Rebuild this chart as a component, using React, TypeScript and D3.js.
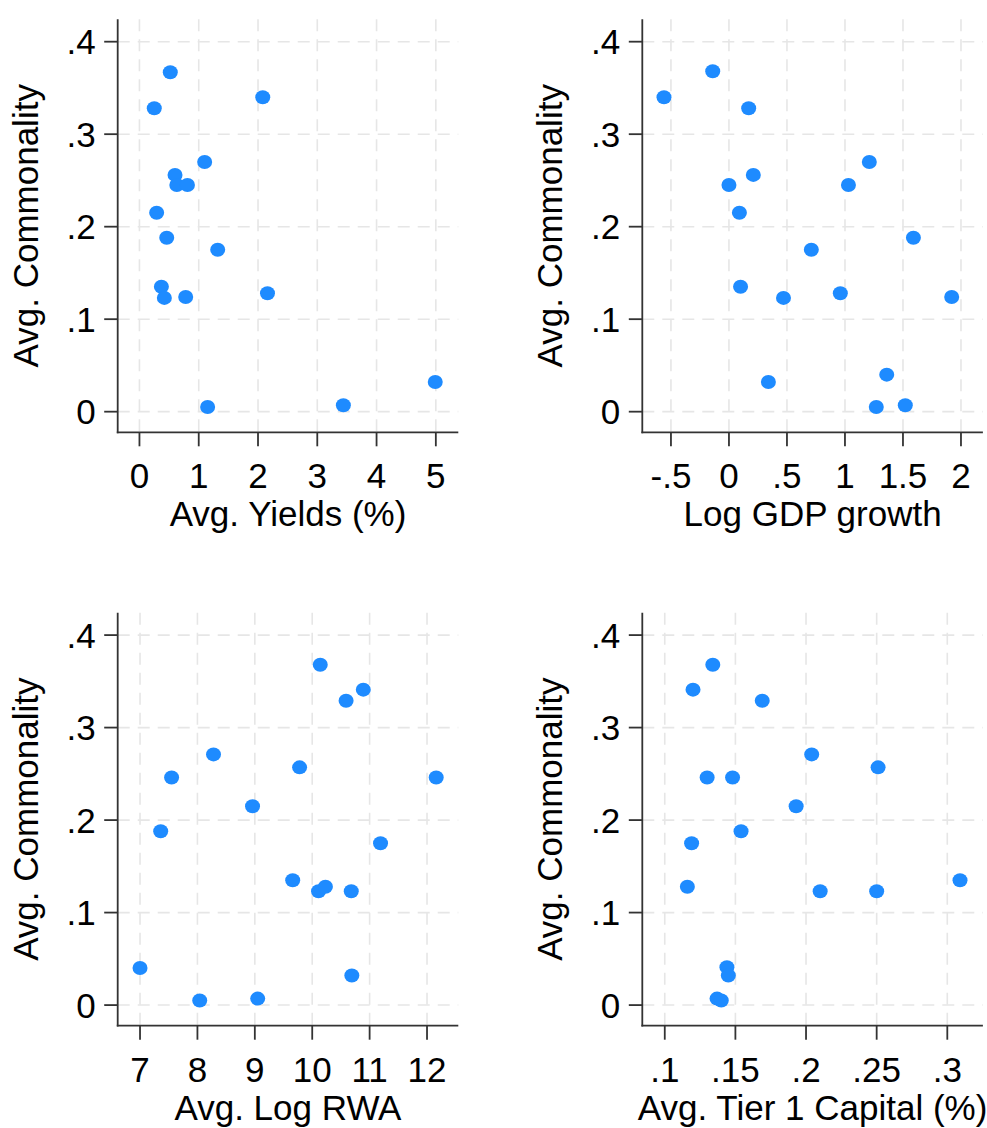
import React from 'react';
import * as d3 from 'd3';

// shared y axis (Avg. Commonality)
const yTicks = [0, 0.1, 0.2, 0.3, 0.4];
const yTickLabels = ['0', '.1', '.2', '.3', '.4'];

// panel 1: Avg. Yields (%)
const yieldsX = [0.52, 0.25, 2.08, 1.1, 0.6, 0.63, 0.81, 0.29, 0.46, 1.32, 0.37, 0.42, 0.78, 2.16, 4.99, 1.15, 3.44];
const yieldsY = [0.367, 0.328, 0.34, 0.27, 0.256, 0.245, 0.245, 0.215, 0.188, 0.175, 0.135, 0.123, 0.124, 0.128, 0.032, 0.005, 0.007];
const yieldsTicks = [0, 1, 2, 3, 4, 5];
const yieldsTickLabels = ['0', '1', '2', '3', '4', '5'];

// panel 2: Log GDP growth
const gdpX = [-0.56, -0.14, 0.17, 0.0, 0.21, 1.21, 1.03, 0.09, 1.59, 0.71, 0.1, 0.47, 0.96, 1.92, 0.34, 1.36, 1.27, 1.52];
const gdpY = [0.34, 0.368, 0.328, 0.245, 0.256, 0.27, 0.245, 0.215, 0.188, 0.175, 0.135, 0.123, 0.128, 0.124, 0.032, 0.04, 0.005, 0.007];
const gdpTicks = [-0.5, 0, 0.5, 1, 1.5, 2];
const gdpTickLabels = ['-.5', '0', '.5', '1', '1.5', '2'];

// panel 3: Avg. Log RWA
const rwaX = [10.14, 10.59, 10.89, 8.28, 9.78, 7.55, 12.16, 8.96, 7.36, 11.19, 9.66, 10.11, 10.23, 10.68, 7.0, 10.69, 8.04, 9.05];
const rwaY = [0.368, 0.329, 0.341, 0.271, 0.257, 0.246, 0.246, 0.215, 0.188, 0.175, 0.135, 0.123, 0.128, 0.123, 0.04, 0.032, 0.005, 0.007];
const rwaTicks = [7, 8, 9, 10, 11, 12];
const rwaTickLabels = ['7', '8', '9', '10', '11', '12'];

// panel 4: Avg. Tier 1 Capital (%)
const tierX = [0.134, 0.12, 0.169, 0.204, 0.251, 0.13, 0.148, 0.193, 0.154, 0.119, 0.309, 0.116, 0.21, 0.25, 0.144, 0.145, 0.137, 0.14];
const tierY = [0.368, 0.341, 0.329, 0.271, 0.257, 0.246, 0.246, 0.215, 0.188, 0.175, 0.135, 0.128, 0.123, 0.123, 0.041, 0.032, 0.007, 0.005];
const tierTicks = [0.1, 0.15, 0.2, 0.25, 0.3];
const tierTickLabels = ['.1', '.15', '.2', '.25', '.3'];

const FONT = "'Liberation Sans', Arial, Helvetica, sans-serif";
const FS = 35;
const PLOT_W = 340.6;
const PLOT_H = 413;
const DOT = '#1e8bff';
const AXIS = '#333';
const GRID = '#e6e6e6';

interface PanelProps {
  left: number;
  top: number;
  xDomain: [number, number];
  xTicks: number[];
  xTickLabels: string[];
  xs: number[];
  ys: number[];
  xTitle: string;
}

const Panel: React.FC<PanelProps> = ({ left, top, xDomain, xTicks, xTickLabels, xs, ys, xTitle }) => {
  const x = d3.scaleLinear().domain(xDomain).range([0, PLOT_W]);
  const y = d3.scaleLinear().domain([-0.0223, 0.4242]).range([PLOT_H, 0]);

  return (
    <g transform={`translate(${left},${top})`} fontFamily={FONT}>
      {/* grid */}
      <g stroke={GRID} strokeWidth={1.6} strokeDasharray="12 8">
        {xTicks.map((t, i) => (
          <line key={'gx' + i} x1={x(t)} x2={x(t)} y1={0} y2={PLOT_H} />
        ))}
        {yTicks.map((t, i) => (
          <line key={'gy' + i} x1={0} x2={PLOT_W} y1={y(t)} y2={y(t)} />
        ))}
      </g>

      {/* points */}
      {xs.map((v, i) => (
        <ellipse key={'p' + i} cx={x(v)} cy={y(ys[i])} rx={7.5} ry={7} fill={DOT} />
      ))}

      {/* axes */}
      <g stroke={AXIS} strokeWidth={1.8}>
        <line x1={0} x2={0} y1={0} y2={PLOT_H + 0.9} />
        <line x1={-0.9} x2={PLOT_W} y1={PLOT_H} y2={PLOT_H} />
        {yTicks.map((t, i) => (
          <line key={'ty' + i} x1={-13.5} x2={0} y1={y(t)} y2={y(t)} />
        ))}
        {xTicks.map((t, i) => (
          <line key={'tx' + i} x1={x(t)} x2={x(t)} y1={PLOT_H} y2={PLOT_H + 14} />
        ))}
      </g>

      {/* tick labels */}
      {yTicks.map((t, i) => (
        <text key={'ly' + i} x={-22} y={y(t)} dy="0.36em" textAnchor="end" fontSize={FS} fill="#000">
          {yTickLabels[i]}
        </text>
      ))}
      {xTicks.map((t, i) => (
        <text key={'lx' + i} x={x(t)} y={PLOT_H + 56} textAnchor="middle" fontSize={FS} fill="#000">
          {xTickLabels[i]}
        </text>
      ))}

      {/* titles */}
      <text x={PLOT_W / 2} y={PLOT_H + 94} textAnchor="middle" fontSize={FS} fill="#000">
        {xTitle}
      </text>
      <text
        transform={`translate(${-80},${PLOT_H / 2}) rotate(-90)`}
        textAnchor="middle"
        fontSize={FS}
        fill="#000"
      >
        Avg. Commonality
      </text>
    </g>
  );
};

export default function App() {
  return (
    <svg
      width={987}
      height={1128}
      style={{ position: 'absolute', left: 0, top: 0, background: '#fff' }}
    >
      <rect width={987} height={1128} fill="#fff" />
      <Panel
        left={117.7}
        top={19.3}
        xDomain={[-0.367, 5.379]}
        xTicks={yieldsTicks}
        xTickLabels={yieldsTickLabels}
        xs={yieldsX}
        ys={yieldsY}
        xTitle="Avg. Yields (%)"
      />
      <Panel
        left={642.3}
        top={19.3}
        xDomain={[-0.747, 2.189]}
        xTicks={gdpTicks}
        xTickLabels={gdpTickLabels}
        xs={gdpX}
        ys={gdpY}
        xTitle="Log GDP growth"
      />
      <Panel
        left={117.7}
        top={612.7}
        xDomain={[6.611, 12.545]}
        xTicks={rwaTicks}
        xTickLabels={rwaTickLabels}
        xs={rwaX}
        ys={rwaY}
        xTitle="Avg. Log RWA"
      />
      <Panel
        left={642.3}
        top={612.7}
        xDomain={[0.0841, 0.3252]}
        xTicks={tierTicks}
        xTickLabels={tierTickLabels}
        xs={tierX}
        ys={tierY}
        xTitle="Avg. Tier 1 Capital (%)"
      />
    </svg>
  );
}
